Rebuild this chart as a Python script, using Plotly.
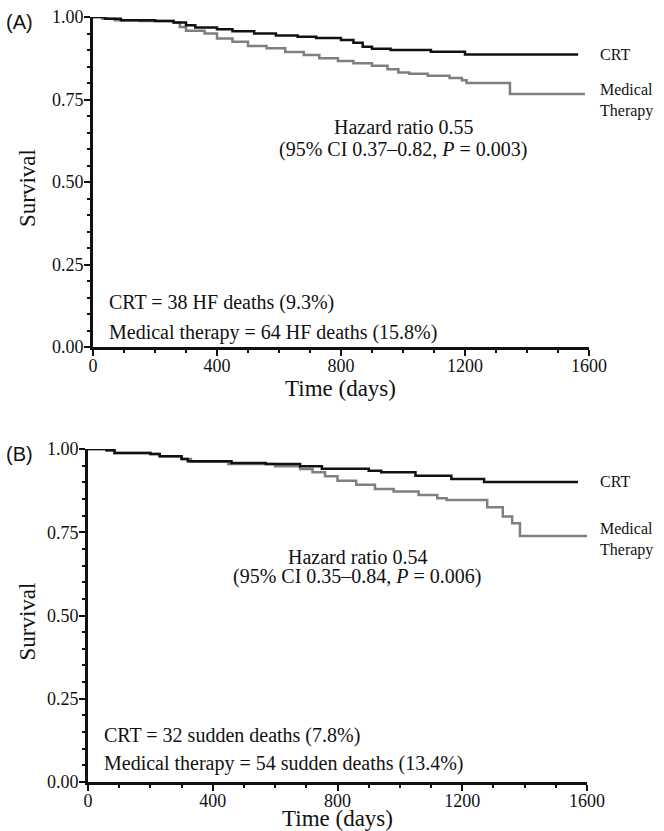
import plotly.graph_objects as go

# ---------------- data ----------------
# Panel A: heart-failure death
a_crt_days = [0, 40, 90, 200, 260, 300, 330, 400, 450, 520, 590, 660, 720, 800, 840, 870, 900, 960, 1090, 1200, 1565]
a_crt_surv = [1.0, 0.995, 0.99, 0.988, 0.983, 0.975, 0.968, 0.963, 0.957, 0.95, 0.944, 0.94, 0.936, 0.93, 0.922, 0.91, 0.904, 0.9, 0.895, 0.886, 0.886]

a_med_days = [0, 30, 70, 150, 260, 280, 300, 360, 400, 450, 500, 560, 620, 680, 730, 790, 840, 900, 950, 985, 1020, 1080, 1150, 1190, 1205, 1345, 1587]
a_med_surv = [1.0, 0.995, 0.99, 0.988, 0.983, 0.97, 0.958, 0.95, 0.935, 0.925, 0.912, 0.905, 0.894, 0.885, 0.875, 0.867, 0.86, 0.852, 0.842, 0.832, 0.828, 0.822, 0.815, 0.808, 0.80, 0.767, 0.767]

# Panel B: sudden death
b_crt_days = [0, 60, 85, 200, 230, 300, 320, 460, 570, 680, 750, 900, 940, 1050, 1165, 1270, 1571]
b_crt_surv = [1.0, 0.996, 0.988, 0.985, 0.978, 0.97, 0.963, 0.958, 0.955, 0.948, 0.941, 0.935, 0.93, 0.92, 0.91, 0.901, 0.901]

b_med_days = [0, 60, 85, 200, 230, 300, 330, 450, 600, 680, 720, 760, 800, 860, 920, 980, 1060, 1120, 1150, 1280, 1330, 1360, 1385, 1600]
b_med_surv = [1.0, 0.996, 0.988, 0.985, 0.978, 0.97, 0.962, 0.955, 0.948, 0.94, 0.93, 0.918, 0.905, 0.893, 0.88, 0.872, 0.862, 0.852, 0.847, 0.825, 0.797, 0.777, 0.739, 0.739]

x_ticks = [0, 400, 800, 1200, 1600]
y_ticks = [0.0, 0.25, 0.5, 0.75, 1.0]

panel_labels = ["(A)", "(B)"]
hazard_lines = [["Hazard ratio 0.55", "(95% CI 0.37–0.82, <i>P</i> = 0.003)"],
                ["Hazard ratio 0.54", "(95% CI 0.35–0.84, <i>P</i> = 0.006)"]]
count_lines = [["CRT = 38 HF deaths (9.3%)", "Medical therapy = 64 HF deaths (15.8%)"],
               ["CRT = 32 sudden deaths (7.8%)", "Medical therapy = 54 sudden deaths (13.4%)"]]
series_names = ["CRT", "Medical<br>Therapy"]

# ---------------- figure ----------------
W, H = 664, 831
SERIF = "Liberation Serif"
SANS = "Liberation Sans"
BLACK = "#111111"
GREY = "#7f7f7f"

fig = go.Figure()

# pixel geometry of the two panels (left, right, top(1.00), bottom(0.00), x-title centre)
panels = [
    dict(l=93, r=589, t=17, b=347, xt=388),
    dict(l=88, r=587, t=449, b=782, xt=818),
]

data = [
    (a_crt_days, a_crt_surv, a_med_days, a_med_surv),
    (b_crt_days, b_crt_surv, b_med_days, b_med_surv),
]

tickfont = dict(family=SERIF, size=18, color=BLACK)
annotations = []
for i, (p, d) in enumerate(zip(panels, data)):
    xa = "x" if i == 0 else "x2"
    ya = "y" if i == 0 else "y2"
    crt_d, crt_s, med_d, med_s = d
    fig.add_trace(go.Scatter(x=med_d, y=med_s, mode="lines", line=dict(color=GREY, width=2.5, shape="hv"),
                             xaxis=xa, yaxis=ya, showlegend=False, name="Medical Therapy"))
    fig.add_trace(go.Scatter(x=crt_d, y=crt_s, mode="lines", line=dict(color=BLACK, width=2.5, shape="hv"),
                             xaxis=xa, yaxis=ya, showlegend=False, name="CRT"))

    xdom = [p["l"] / W, p["r"] / W]
    ydom = [1 - p["b"] / H, 1 - p["t"] / H]
    xkey = "xaxis" if i == 0 else "xaxis2"
    ykey = "yaxis" if i == 0 else "yaxis2"
    common = dict(showline=True, linewidth=3, linecolor=BLACK, showgrid=False, zeroline=False,
                  ticks="outside", ticklen=6, tickwidth=2, tickcolor=BLACK, automargin=False,
                  tickfont=tickfont)
    fig.update_layout(**{
        xkey: dict(domain=xdom, range=[0, 1600], tickmode="array", tickvals=x_ticks, anchor=ya,
                   ticklabelstandoff=-6,
                   minor=dict(dtick=100, tick0=0, ticks="outside", ticklen=3, tickwidth=2, tickcolor=BLACK),
                   **common),
        ykey: dict(domain=ydom, range=[0, 1.0], tickmode="array", tickvals=y_ticks, tickformat=".2f", anchor=xa,
                   ticklabelstandoff=-3,
                   minor=dict(dtick=0.05, tick0=0, ticks="outside", ticklen=3, tickwidth=2, tickcolor=BLACK),
                   **common),
    })

    # panel label
    annotations.append(dict(text=panel_labels[i], xref="paper", yref="paper", x=4 / W, y=1 - (p["t"] + 5) / H,
                            xanchor="left", yanchor="middle", showarrow=False,
                            font=dict(family=SANS, size=20, color=BLACK)))
    # axis titles
    annotations.append(dict(text="Survival", xref="paper", yref="paper", x=27 / W,
                            y=1 - ((p["t"] + p["b"]) / 2 + 6) / H, textangle=-90,
                            xanchor="center", yanchor="middle", showarrow=False,
                            font=dict(family=SERIF, size=23, color=BLACK)))
    annotations.append(dict(text="Time (days)", xref="paper", yref="paper", x=(p["l"] + p["r"]) / 2 / W,
                            y=1 - p["xt"] / H, xanchor="center", yanchor="middle", showarrow=False,
                            font=dict(family=SERIF, size=23, color=BLACK)))
    # series labels at right
    annotations.append(dict(text=series_names[0], xref="paper", yref=ya, x=598 / W,
                            y=crt_s[-1], xanchor="left", yanchor="middle", showarrow=False, align="left",
                            font=dict(family=SERIF, size=16, color=BLACK)))
    annotations.append(dict(text=series_names[1], xref="paper", yref=ya, x=598 / W,
                            y=med_s[-1] - (0.02 if i == 0 else 0.012), xanchor="left", yanchor="middle",
                            showarrow=False, align="left",
                            font=dict(family=SERIF, size=16, color=BLACK)))
    # hazard ratio text
    hx = 1003 if i == 0 else 865
    hy = [0.667, 0.597] if i == 0 else [0.677, 0.617]
    for t, yy in zip(hazard_lines[i], hy):
        annotations.append(dict(text=t, xref=xa, yref=ya, x=hx, y=yy, xanchor="center", yanchor="middle",
                                showarrow=False, font=dict(family=SERIF, size=20, color=BLACK)))
    # death counts
    cy = [0.136, 0.045] if i == 0 else [0.14, 0.056]
    for t, yy in zip(count_lines[i], cy):
        annotations.append(dict(text=t, xref=xa, yref=ya, x=45, y=yy, xanchor="left", yanchor="middle",
                                showarrow=False, font=dict(family=SERIF, size=20, color=BLACK)))

fig.update_layout(template="none", width=W, height=H, margin=dict(l=0, r=0, t=0, b=0, autoexpand=False),
                  paper_bgcolor="white", plot_bgcolor="white", annotations=annotations,
                  showlegend=False, font=dict(family=SERIF, size=17, color=BLACK))

fig.write_html("out.html", config={"displayModeBar": False},
               post_script="document.body.style.margin='0';document.body.style.overflow='hidden';")
